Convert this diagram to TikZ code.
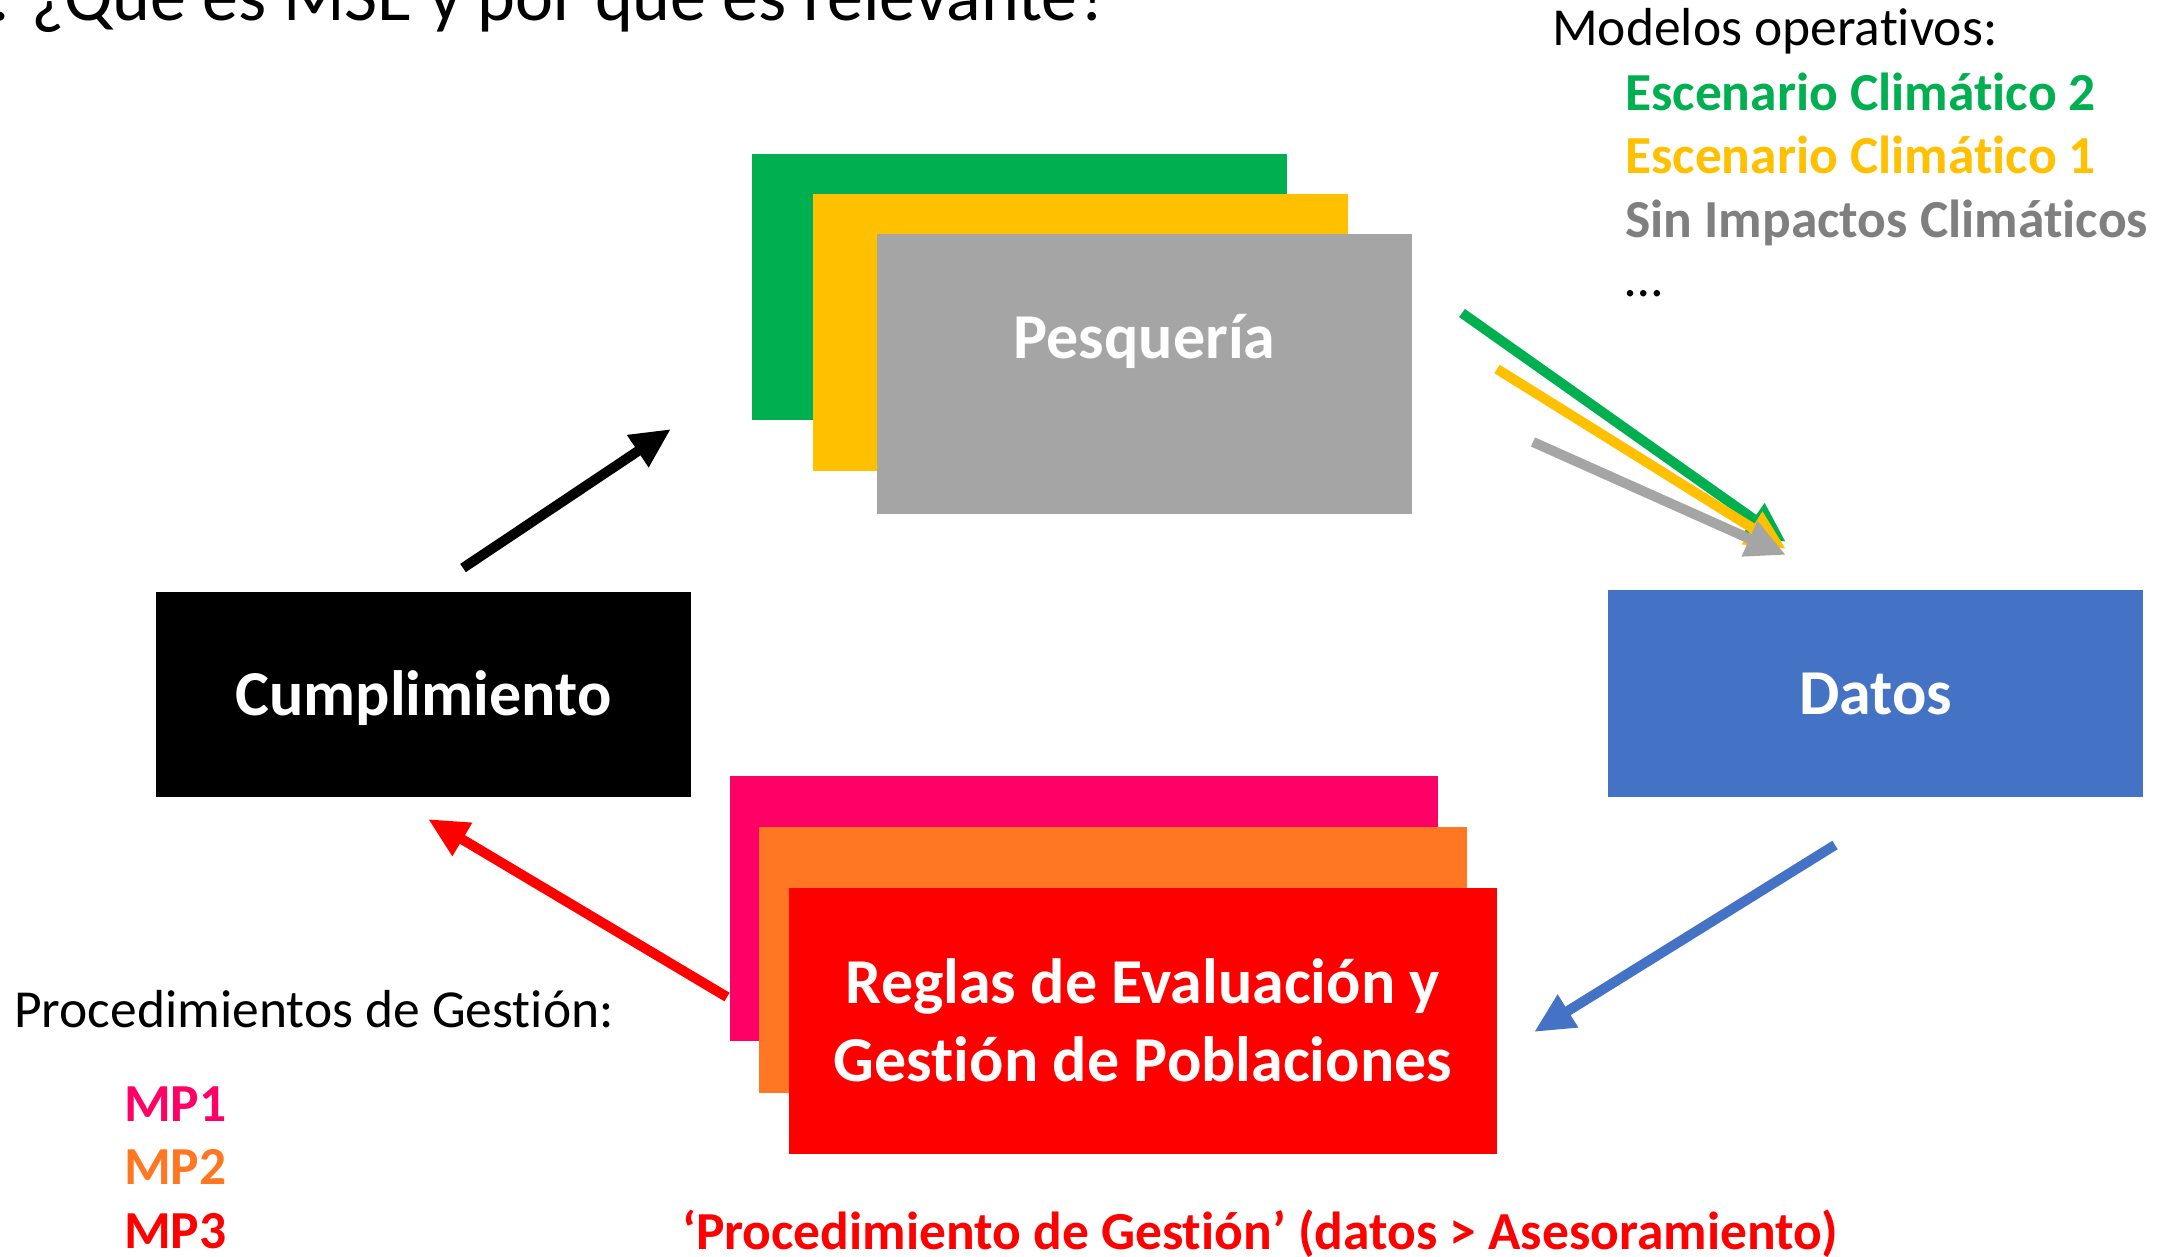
\documentclass[tikz,border=0pt]{standalone}
\usepackage{fontspec}
\setmainfont{Carlito}[Ligatures={NoCommon}]
\usetikzlibrary{arrows.meta}
\definecolor{cgreen}{HTML}{00B050}
\definecolor{cyellow}{HTML}{FFC000}
\definecolor{cgray}{HTML}{A5A5A5}
\definecolor{cgraytext}{HTML}{7F7F7F}
\definecolor{cblue}{HTML}{4472C4}
\definecolor{cpink}{HTML}{FF0066}
\definecolor{corange}{HTML}{FF7722}
\definecolor{cred}{HTML}{FF0000}
\tikzset{
  panel/.style={rectangle, draw=none, inner sep=0pt, outer sep=0pt},
  boxtext/.style={text=white, inner sep=0pt, font=\fontsize{64}{78}\selectfont\bfseries},
  lbl/.style={anchor=base west, inner sep=0pt, font=\fontsize{53.5}{64}\selectfont},
  lblb/.style={anchor=base west, inner sep=0pt, font=\fontsize{53.5}{64}\selectfont\bfseries},
  fatarrow/.style={line width=10pt, -{Triangle[width=36pt,length=40pt]}},
}
\begin{document}
\begin{tikzpicture}[x=1pt,y=-1pt]
\useasboundingbox (0,0) rectangle (2167,1256);
\fill[white] (0,0) rectangle (2167,1256);

% title (cut by the top edge)
\node[anchor=base west, inner sep=0pt, font=\fontsize{72}{86}\selectfont] (title) at (-9,20) {. ¿Qué es MSE y por qué es relevante?};

% operating models
\node[lbl] (modelos) at (1552,45) {Modelos operativos:};
\node[lblb, text=cgreen] (ec2) at (1625,110) {Escenario Climático 2};
\node[lblb, text=cyellow] (ec1) at (1625,173) {Escenario Climático 1};
\node[lblb, text=cgraytext] (sin) at (1625,237) {Sin Impactos Climáticos};
\node[lbl] (dots) at (1625,296) {…};

% management procedures
\node[lbl] (proc) at (14,1027) {Procedimientos de Gestión:};
\node[lblb, text=cpink] (mp1) at (124,1121) {MP1};
\node[lblb, text=corange] (mp2) at (124,1184) {MP2};
\node[lblb, text=cred] (mp3) at (124,1248) {MP3};
\node[lblb, text=cred] (bottom) at (682,1249) {‘Procedimiento de Gestión’ (datos > Asesoramiento)};

% red arrow (under the boxes)
\coordinate (rS) at (727,997);
\coordinate (rE) at (428,819);
\draw[fatarrow, cred] (rS) -- (rE);

% fishery stack
\node[panel, fill=cgreen, minimum width=535pt, minimum height=266pt] (pg) at (1019.5,287) {};
\node[panel, fill=cyellow, minimum width=535pt, minimum height=277pt] (py) at (1080.5,332.5) {};
\node[panel, fill=cgray, minimum width=535pt, minimum height=280pt] (pesq) at (1144.5,374) {};
\node[boxtext, anchor=base] (pesqt) at (pesq.center |- 0,358) {Pesquería};

% compliance
\node[panel, fill=black, minimum width=535pt, minimum height=205pt, boxtext, text height=41pt, text depth=0pt] (cump) at (423.5,694.5) {Cumplimiento};

% data
\node[panel, fill=cblue, minimum width=535pt, minimum height=207pt, boxtext, text height=41pt, text depth=0pt] (datos) at (1875.5,693.5) {Datos};

% management procedures stack
\node[panel, fill=cpink, minimum width=708pt, minimum height=265pt] (rp) at (1084,908.5) {};
\node[panel, fill=corange, minimum width=708pt, minimum height=266pt] (ro) at (1113,960) {};
\node[panel, fill=cred, minimum width=708pt, minimum height=266pt] (reglas) at (1143,1021) {};
\node[boxtext, anchor=base, align=center] (reglast) at (reglas.center |- 0,1081) {Reglas de Evaluación y\\Gestión de Poblaciones};

% arrows
\coordinate (kS) at (463,568);
\coordinate (kE) at (671,429);
\draw[fatarrow, black] (kS) -- (kE);

\coordinate (gS) at (1462,313);
\coordinate (gE) at (1786,542);
\coordinate (yS) at (1497,369);
\coordinate (yE) at (1786,549);
\coordinate (aS) at (1533,442);
\coordinate (aE) at (1786,555);
\draw[fatarrow, cgreen] (gS) -- (gE);
\draw[fatarrow, cyellow] (yS) -- (yE);
\draw[fatarrow, cgray] (aS) -- (aE);

\coordinate (bS) at (1835,845);
\coordinate (bE) at (1534,1032);
\draw[fatarrow, cblue] (bS) -- (bE);
\end{tikzpicture}
\end{document}
